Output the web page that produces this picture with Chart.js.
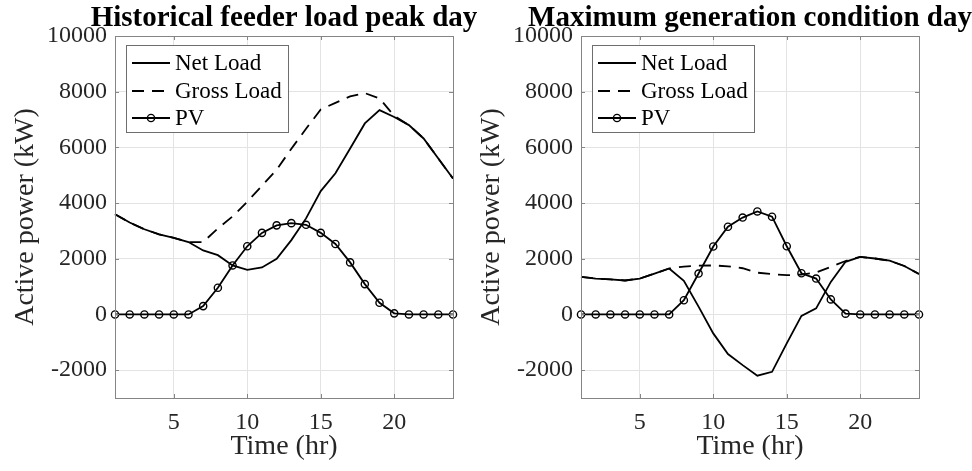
<!DOCTYPE html>
<html><head><meta charset="utf-8">
<script src="https://cdn.jsdelivr.net/npm/chart.js@4.4.1/dist/chart.umd.min.js"></script>
<style>
html,body{margin:0;padding:0;background:#fff;}
#wrap{position:relative;width:972px;height:471px;overflow:hidden;background:#fff;}
canvas{position:absolute;top:0;}
#c1{left:0;}
#c2{left:466px;}
</style></head><body>
<div id="wrap">
<canvas id="c1" width="486" height="471"></canvas>
<canvas id="c2" width="506" height="471"></canvas>
</div>
<script>
// ---- data ----
const hours = [1,2,3,4,5,6,7,8,9,10,11,12,13,14,15,16,17,18,19,20,21,22,23,24];
const xTicks = [5,10,15,20];
const yTicks = [-2000,0,2000,4000,6000,8000,10000];
const seriesNames = ['Net Load','Gross Load','PV'];
const titles = ['Historical feeder load peak day','Maximum generation condition day'];

const netPeak   = [3600,3300,3060,2880,2750,2600,2300,2130,1760,1600,1690,2000,2670,3450,4430,5070,5960,6860,7340,7090,6800,6320,5600,4880];
const grossPeak = [3600,3300,3060,2880,2750,2600,2600,3090,3520,4050,4620,5200,5950,6670,7360,7600,7830,7950,7760,7130,6800,6320,5600,4880];
const pvPeak    = [0,0,0,0,0,0,300,960,1760,2450,2930,3200,3280,3220,2930,2530,1870,1090,420,40,0,0,0,0];

const netMax   = [1350,1290,1260,1220,1290,1470,1650,1210,280,-680,-1420,-1820,-2200,-2060,-1040,-50,220,1170,1890,2070,2010,1930,1740,1450];
const grossMax = [1350,1290,1260,1220,1290,1470,1650,1720,1750,1760,1730,1660,1500,1450,1410,1430,1510,1710,1920,2070,2010,1930,1740,1450];
const pvMax    = [0,0,0,0,0,0,0,510,1470,2440,3150,3480,3700,3510,2450,1480,1290,540,30,0,0,0,0,0];

// ---- styling ----
const FONT = "'Liberation Serif','Times New Roman',serif";
const BOX = '#858585';
const GRID = '#e3e3e3';
const TXT = '#262626';

function decor(title){
  return {
    id:'decor',
    afterDatasetsDraw(chart){
      const ctx = chart.ctx, a = chart.chartArea;
      const xs = chart.scales.x, ys = chart.scales.y;
      ctx.save();
      // inward tick marks
      ctx.strokeStyle = BOX; ctx.lineWidth = 1;
      ctx.beginPath();
      xs.ticks.forEach(t=>{
        const px = Math.round(xs.getPixelForValue(t.value))+0.5;
        ctx.moveTo(px,a.bottom); ctx.lineTo(px,a.bottom-4);
        ctx.moveTo(px,a.top); ctx.lineTo(px,a.top+4);
      });
      ys.ticks.forEach(t=>{
        const py = Math.round(ys.getPixelForValue(t.value))+0.5;
        ctx.moveTo(a.left,py); ctx.lineTo(a.left+4,py);
        ctx.moveTo(a.right,py); ctx.lineTo(a.right-4,py);
      });
      ctx.stroke();
      // axes box
      ctx.strokeRect(Math.round(a.left)+0.5, Math.round(a.top)+0.5, Math.round(a.right-a.left), Math.round(a.bottom-a.top));
      // legend
      const lx = Math.round(a.left)+11.5, ly = 45.5, lw = 162, lh = 87;
      ctx.fillStyle = '#fff';
      ctx.fillRect(lx,ly,lw,lh);
      ctx.strokeStyle = '#6e6e6e';
      ctx.strokeRect(lx,ly,lw,lh);
      const rows = [63,91,118];
      chart.data.datasets.forEach((ds,i)=>{
        const y = rows[i];
        const x0 = a.left+17, x1 = a.left+55;
        ctx.strokeStyle = '#000'; ctx.lineWidth = 1.8;
        ctx.setLineDash(ds.borderDash || []);
        ctx.beginPath(); ctx.moveTo(x0,y); ctx.lineTo(x1,y); ctx.stroke();
        ctx.setLineDash([]);
        if (ds.pointRadius > 0){
          ctx.lineWidth = 1.4;
          ctx.beginPath(); ctx.arc((x0+x1)/2,y,ds.pointRadius,0,Math.PI*2); ctx.stroke();
        }
        ctx.fillStyle = '#000';
        ctx.font = "23px "+FONT;
        ctx.textAlign = 'left'; ctx.textBaseline = 'middle';
        ctx.fillText(ds.label, a.left+60, y+1);
      });
      // title
      ctx.font = "bold 29px "+FONT;
      ctx.fillStyle = '#000'; ctx.textAlign = 'center'; ctx.textBaseline = 'alphabetic';
      ctx.fillText(title,(a.left+a.right)/2,26);
      ctx.restore();
    }
  };
}

function makeChart(id, net, gross, pv, title, padRight){
  return new Chart(document.getElementById(id), {
    type:'line',
    data:{
      datasets:[
        {label:seriesNames[0], data:hours.map((h,i)=>({x:h,y:net[i]})), borderColor:'#000', borderWidth:1.8, pointRadius:0, tension:0, order:2, clip:false},
        {label:seriesNames[1], data:hours.map((h,i)=>({x:h,y:gross[i]})), borderColor:'#000', borderWidth:1.8, borderDash:[12,8], pointRadius:0, tension:0, order:1, clip:false},
        {label:seriesNames[2], data:hours.map((h,i)=>({x:h,y:pv[i]})), borderColor:'#000', borderWidth:1.8, pointRadius:3.6, pointBorderWidth:1.4, pointBorderColor:'#000', pointBackgroundColor:'rgba(0,0,0,0)', pointStyle:'circle', tension:0, order:0, clip:false}
      ]
    },
    options:{
      responsive:false, animation:false, devicePixelRatio:1,
      layout:{padding:{left:0,right:padRight,top:36,bottom:0}},
      plugins:{legend:{display:false}, tooltip:{enabled:false}, title:{display:false}},
      scales:{
        x:{type:'linear', min:1, max:24,
          afterBuildTicks:s=>{s.ticks = xTicks.map(v=>({value:v}));},
          afterFit:s=>{s.height = 73;},
          grid:{color:GRID, drawTicks:false, lineWidth:1},
          border:{display:false},
          ticks:{color:TXT, font:{family:FONT,size:24}, padding:10, maxRotation:0, callback:v=>String(v)},
          title:{display:true, text:'Time (hr)', color:TXT, font:{family:FONT,size:28}, padding:{top:0,bottom:8}}
        },
        y:{type:'linear', min:-3000, max:10000,
          afterBuildTicks:s=>{s.ticks = yTicks.map(v=>({value:v}));},
          afterFit:s=>{s.width = 115;},
          grid:{color:GRID, drawTicks:false, lineWidth:1},
          border:{display:false},
          ticks:{color:TXT, font:{family:FONT,size:24}, padding:8, callback:v=>String(v)},
          title:{display:true, text:'Active power (kW)', color:TXT, font:{family:FONT,size:28}, padding:{top:9,bottom:0}}
        }
      }
    },
    plugins:[decor(title)]
  });
}

makeChart('c1', netPeak, grossPeak, pvPeak, titles[0], 33);
makeChart('c2', netMax, grossMax, pvMax, titles[1], 53);
</script>
</body></html>
